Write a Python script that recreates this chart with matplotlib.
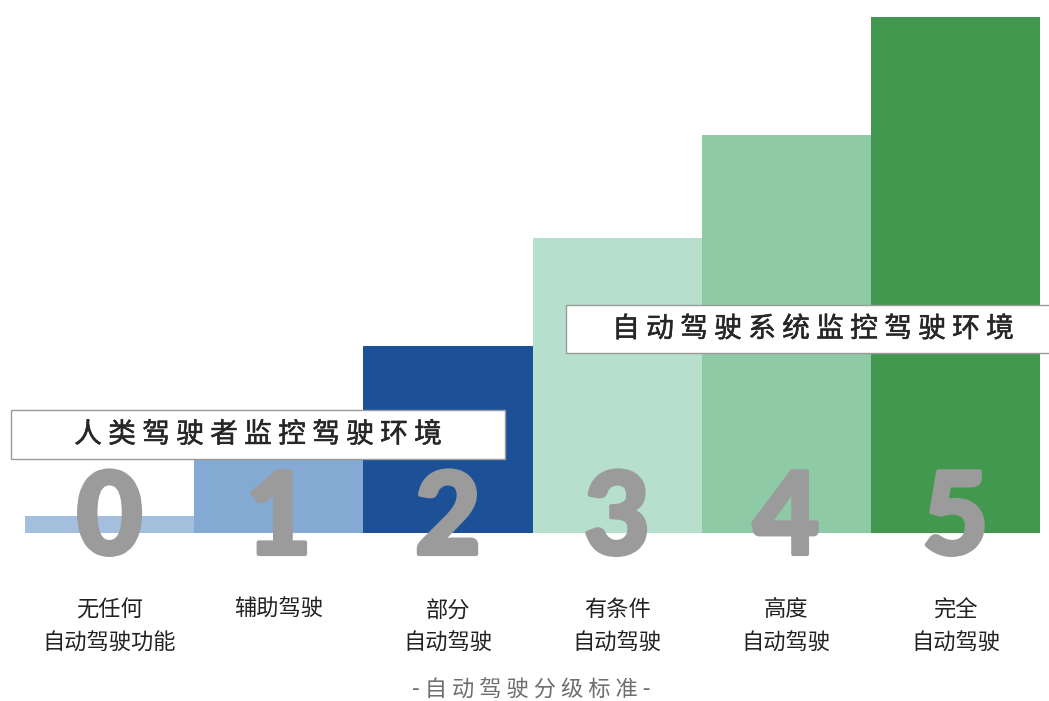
import matplotlib
matplotlib.use("Agg")
import matplotlib.pyplot as plt
from matplotlib.patches import Rectangle
import matplotlib.patheffects as pe

plt.rcParams['font.family'] = ['Noto Sans CJK SC', 'DejaVu Sans']

levels = ["0", "1", "2", "3", "4", "5"]
heights = [17, 77, 187, 295, 398, 516]
labels = ["无任何\n自动驾驶功能", "辅助驾驶", "部分\n自动驾驶", "有条件\n自动驾驶", "高度\n自动驾驶", "完全\n自动驾驶"]
colors = ["#a3bfdd", "#84a9d3", "#1d5197", "#b6e0cd", "#8fcaa6", "#42984e"]
human_text = "人 类 驾 驶 者 监 控 驾 驶 环 境"
system_text = "自 动 驾 驶 系 统 监 控 驾 驶 环 境"
title = "- 自 动 驾 驶 分 级 标 准 -"

W, H = 1049, 701
fig = plt.figure(figsize=(W / 100, H / 100), dpi=100)
fig.patch.set_facecolor("white")
ax = fig.add_axes([25 / W, 168 / H, 1015 / W, 516 / H])
x = list(range(len(levels)))
ax.bar(x, heights, width=1.0, color=colors, edgecolor="none", zorder=1)
ax.set_xlim(-0.5, len(levels) - 0.5)
ax.set_ylim(0, 516)
for s in ax.spines.values():
    s.set_visible(False)
ax.set_yticks([])
ax.set_xticks(x)
ax.set_xticklabels(labels, fontsize=16, color="#222222", linespacing=1.6)
ax.tick_params(axis="x", length=0, pad=47)
ax.set_facecolor("none")

# big level digits
for xi, lv in zip(x, levels):
    ax.text(xi, 12, lv, ha="center", va="center", fontsize=82, fontweight="black",
            family="Lato", color="#9b9b9b", zorder=4, clip_on=False,
            path_effects=[pe.withStroke(linewidth=3, foreground="#9b9b9b")])

# label boxes (figure pixel coords, top-origin converted)
def box(x0, x1, ytop, ybot, text):
    r = Rectangle((x0 / W, 1 - ybot / H), (x1 - x0) / W, (ybot - ytop) / H,
                  transform=fig.transFigure, facecolor="white", edgecolor="#9a9a9a",
                  linewidth=1.0, zorder=5)
    fig.add_artist(r)
    fig.text((x0 + x1) / 2 / W, 1 - (ytop + ybot) / 2 / H, text, ha="center", va="center",
             fontsize=20, fontweight="normal", color="#262626", zorder=6,
             path_effects=[pe.withStroke(linewidth=0.35, foreground="#262626")])

box(11, 505, 410, 459, human_text)
box(566, 1060, 305, 353, system_text)

fig.text(531 / W, 1 - 690 / H, title, ha="center", va="center", fontsize=16, color="#6e6e6e")

fig.savefig("out.png", dpi=100, facecolor="white")
